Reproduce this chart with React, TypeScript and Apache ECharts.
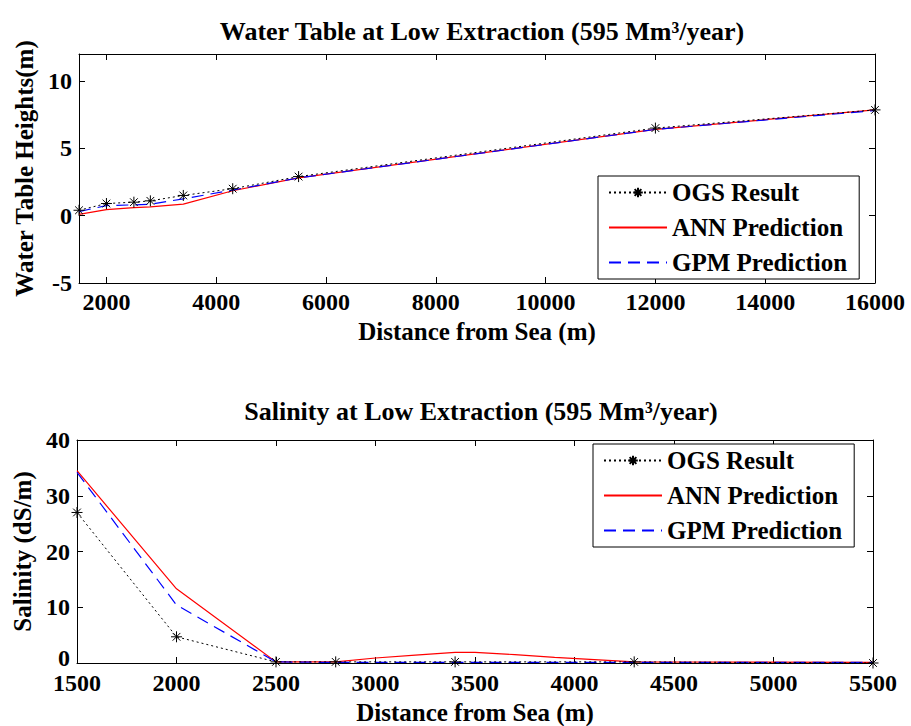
import React, { useEffect, useRef } from "react";
import * as echarts from "echarts";

// ---- Data ----
const wtDistance = [1500, 2000, 2500, 2800, 3400, 4300, 5500, 12000, 16000];
const wtOGS = [0.4, 0.9, 1.0, 1.1, 1.5, 2.0, 2.9, 6.5, 7.85];
const wtANN = [0.1, 0.45, 0.6, 0.65, 0.85, 1.85, 2.8, 6.4, 7.85];
const wtGPM = [0.3, 0.75, 0.8, 0.85, 1.25, 1.9, 2.8, 6.4, 7.8];
const wtXTicks = [2000, 4000, 6000, 8000, 10000, 12000, 14000, 16000];
const wtYTicks = [-5, 0, 5, 10];

const salOGSDistance = [1500, 2000, 2500, 2800, 3400, 4300, 5500];
const salOGS = [27, 4.7, 0.2, 0.2, 0.2, 0.2, 0];
const salANNDistance = [1500, 2000, 2500, 2800, 3000, 3200, 3400, 3500, 3700, 3900, 4100, 4300, 5500];
const salANN = [34.5, 13.3, 0.2, 0.2, 0.9, 1.4, 1.9, 1.9, 1.5, 1.0, 0.6, 0.2, 0.1];
const salGPMDistance = [1500, 2000, 2500, 2800, 3400, 4300, 5500];
const salGPM = [34.2, 10.4, 0.2, 0.1, 0.1, 0.1, 0.1];

const seriesNames = ["OGS Result", "ANN Prediction", "GPM Prediction"];

const FONT = "'Liberation Serif', 'Times New Roman', serif";
const STAR = "path://M5,0L5,10M0,5L10,5M1.5,1.5L8.5,8.5M1.5,8.5L8.5,1.5";

const zip = (xs: number[], ys: number[]) => xs.map((x, i) => [x, ys[i]]);
const plain = (v: number) => String(v);

export default function App() {
  const ref = useRef<HTMLDivElement>(null);
  useEffect(() => {
    if (!ref.current) return;
    const chart = echarts.init(ref.current, null, { renderer: "svg" });
    const tickLabel = { fontFamily: FONT, fontWeight: "bold" as const, fontSize: 24, color: "#000" };
    const nameStyle = { fontFamily: FONT, fontWeight: "bold" as const, fontSize: 25, color: "#000" };
    const axisLine = { show: true, onZero: false, lineStyle: { color: "#000", width: 1 } };
    const inTick = { show: true, inside: true, length: 6, lineStyle: { color: "#000" } };

    const mkOGS = (data: number[][], xi: number, yi: number) => ({
      name: seriesNames[0], type: "line", xAxisIndex: xi, yAxisIndex: yi, data,
      symbol: STAR, symbolSize: 11,
      itemStyle: { color: "#000", borderColor: "#000", borderWidth: 1 },
      lineStyle: { color: "#000", width: 1, type: [2, 3] },
      z: 5,
    });
    const mkANN = (data: number[][], xi: number, yi: number) => ({
      name: seriesNames[1], type: "line", xAxisIndex: xi, yAxisIndex: yi, data,
      symbol: "none", itemStyle: { color: "#ff0000" },
      lineStyle: { color: "#ff0000", width: 1.2, type: "solid" }, z: 3,
    });
    const mkGPM = (data: number[][], xi: number, yi: number) => ({
      name: seriesNames[2], type: "line", xAxisIndex: xi, yAxisIndex: yi, data,
      symbol: "none", itemStyle: { color: "#0000ff" },
      lineStyle: { color: "#0000ff", width: 1.2, type: [12, 7] }, z: 4,
    });

    const legendBase = {
      orient: "vertical",
      data: [
        { name: seriesNames[0] },
        { name: seriesNames[1], itemStyle: { opacity: 0 } },
        { name: seriesNames[2], itemStyle: { opacity: 0 } },
      ],
      itemWidth: 58,
      itemHeight: 12,
      itemGap: 10,
      padding: [4, 12, 4, 10],
      borderColor: "#000",
      borderWidth: 1,
      backgroundColor: "#fff",
      textStyle: { fontFamily: FONT, fontWeight: "bold", fontSize: 25, color: "#000" },
      selectedMode: false,
    };

    chart.setOption({
      animation: false,
      backgroundColor: "#fff",
      title: [
        {
          text: "Water Table at Low Extraction (595 Mm³/year)",
          left: 477, top: 13, textAlign: "center",
          textStyle: { fontFamily: FONT, fontWeight: "bold", fontSize: 26, color: "#000" },
        },
        {
          text: "Salinity at Low Extraction (595 Mm³/year)",
          left: 476, top: 393, textAlign: "center",
          textStyle: { fontFamily: FONT, fontWeight: "bold", fontSize: 26, color: "#000" },
        },
      ],
      legend: [
        { ...legendBase, left: 598, top: 176 },
        { ...legendBase, left: 593, top: 444 },
      ],
      grid: [
        { left: 79, right: 36, top: 54, height: 229 },
        { left: 77, right: 38, top: 440, height: 223 },
      ],
      xAxis: [
        {
          gridIndex: 0, type: "value", min: 1500, max: 16000,
          name: "Distance from Sea (m)", nameLocation: "middle", nameGap: 36,
          nameTextStyle: nameStyle,
          axisLine, axisTick: { ...inTick, customValues: wtXTicks },
          axisLabel: { ...tickLabel, margin: 7, customValues: wtXTicks, formatter: plain },
          splitLine: { show: false },
        },
        {
          gridIndex: 0, type: "value", min: 1500, max: 16000, position: "top",
          axisLine, axisTick: { ...inTick, customValues: wtXTicks },
          axisLabel: { show: false, customValues: wtXTicks }, splitLine: { show: false },
        },
        {
          gridIndex: 1, type: "value", min: 1500, max: 5500, interval: 500,
          name: "Distance from Sea (m)", nameLocation: "middle", nameGap: 37,
          nameTextStyle: nameStyle,
          axisLine, axisTick: inTick,
          axisLabel: { ...tickLabel, margin: 8, formatter: plain },
          splitLine: { show: false },
        },
        {
          gridIndex: 1, type: "value", min: 1500, max: 5500, interval: 500, position: "top",
          axisLine, axisTick: inTick, axisLabel: { show: false }, splitLine: { show: false },
        },
      ],
      yAxis: [
        {
          gridIndex: 0, type: "value", min: -5, max: 12,
          name: "Water Table Heights(m)", nameLocation: "middle", nameGap: 40,
          nameTextStyle: nameStyle,
          axisLine, axisTick: { ...inTick, customValues: wtYTicks },
          axisLabel: { ...tickLabel, margin: 7, customValues: wtYTicks, formatter: plain },
          splitLine: { show: false },
        },
        {
          gridIndex: 0, type: "value", min: -5, max: 12, position: "right",
          axisLine, axisTick: { ...inTick, customValues: wtYTicks },
          axisLabel: { show: false, customValues: wtYTicks }, splitLine: { show: false },
        },
        {
          gridIndex: 1, type: "value", min: 0, max: 40, interval: 10,
          name: "Salinity (dS/m)", nameLocation: "middle", nameGap: 42,
          nameTextStyle: nameStyle,
          axisLine, axisTick: inTick,
          axisLabel: {
            ...tickLabel, margin: 7,
            formatter: (v: number) => (v === 0 ? "{z|0}" : String(v)),
            rich: { z: { ...tickLabel, lineHeight: 20, padding: [0, 0, 10, 0] } },
          },
          splitLine: { show: false },
        },
        {
          gridIndex: 1, type: "value", min: 0, max: 40, interval: 10, position: "right",
          axisLine, axisTick: inTick, axisLabel: { show: false }, splitLine: { show: false },
        },
      ],
      series: [
        mkANN(zip(wtDistance, wtANN), 0, 0),
        mkGPM(zip(wtDistance, wtGPM), 0, 0),
        mkOGS(zip(wtDistance, wtOGS), 0, 0),
        mkANN(zip(salANNDistance, salANN), 2, 2),
        mkGPM(zip(salGPMDistance, salGPM), 2, 2),
        mkOGS(zip(salOGSDistance, salOGS), 2, 2),
      ],
    });
    return () => chart.dispose();
  }, []);
  return <div ref={ref} style={{ width: 911, height: 726, position: "absolute", left: 0, top: 0 }} />;
}
